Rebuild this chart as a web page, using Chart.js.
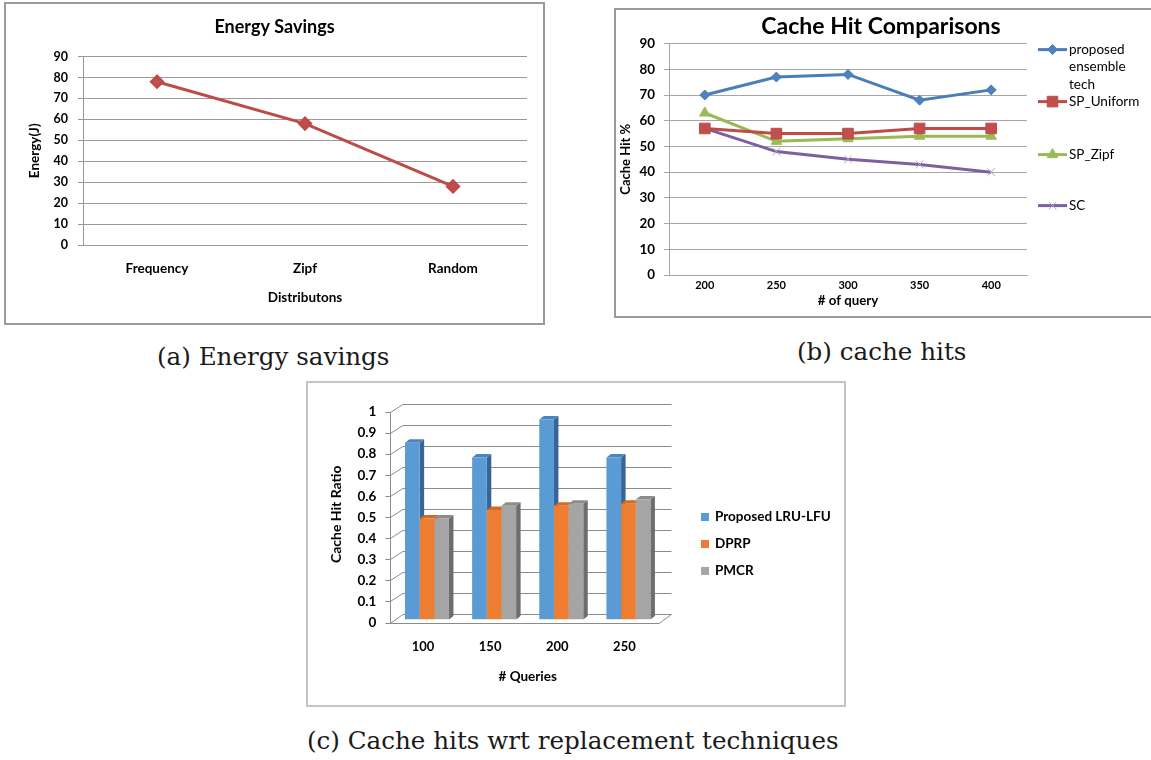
<!DOCTYPE html>
<html>
<head>
<meta charset="utf-8">
<title>Cache and energy results</title>
<script src="https://cdn.jsdelivr.net/npm/chart.js@4/dist/chart.umd.min.js"></script>
<style>
  html, body { margin: 0; padding: 0; background: #fff; overflow: hidden; }
  body { width: 1151px; height: 760px; position: relative; }
  .panel { position: absolute; box-sizing: border-box; border: 2px solid #9a9a9a; background: #fff; }
  .panel canvas { display: block; }
  .cap { position: absolute; font-family: "DejaVu Serif", serif; font-size: 24.6px; line-height: 30px; white-space: nowrap; color: #1a1a1a; }
</style>
</head>
<body>

<div class="panel" style="left:4px;top:2px;width:541px;height:323px"><canvas id="energyChart" width="537" height="319"></canvas></div>
<div class="cap" style="left:157px;top:342px">(a) Energy savings</div>

<div class="panel" style="left:614px;top:8px;width:540px;height:310px"><canvas id="hitChart" width="536" height="306"></canvas></div>
<div class="cap" style="left:797px;top:337px">(b) cache hits</div>

<div class="panel" style="left:306px;top:381px;width:540px;height:326px;border-color:#c4c4c4"><canvas id="ratioChart" width="536" height="322"></canvas></div>
<div class="cap" style="left:307px;top:726px">(c) Cache hits wrt replacement techniques</div>

<script>
// energy per distribution
const distributions = ["Frequency", "Zipf", "Random"];
const energyJ = [78, 58, 28];

// cache hit % per number of queries
const queryCounts = ["200", "250", "300", "350", "400"];
const proposedHits = [70, 77, 78, 68, 72];
const spUniformHits = [57, 55, 55, 57, 57];
const spZipfHits = [63, 52, 53, 54, 54];
const scHits = [57, 48, 45, 43, 40];

// cache hit ratio per replacement technique
const queryGroups = ["100", "150", "200", "250"];
const lruLfuRatio = [0.84, 0.77, 0.95, 0.77];
const dprpRatio = [0.48, 0.52, 0.54, 0.55];
const pmcrRatio = [0.48, 0.54, 0.55, 0.57];

Chart.defaults.font.family = 'Lato, "Open Sans", sans-serif';
Chart.defaults.color = "#000";
Chart.defaults.animation = false;

function wrapText(ctx, text, maxWidth) {
  const words = text.split(" ");
  const lines = [];
  let line = "";
  words.forEach((w) => {
    const test = line ? line + " " + w : w;
    if (line && ctx.measureText(test).width > maxWidth) {
      lines.push(line);
      line = w;
    } else {
      line = test;
    }
  });
  lines.push(line);
  return lines;
}

// legend drawn to the right of the plot, one row per dataset
const sideLegend = {
  id: "sideLegend",
  afterDraw(chart, args, opts) {
    const { ctx, chartArea } = chart;
    ctx.save();
    ctx.font = opts.font;
    ctx.textBaseline = "middle";
    chart.data.datasets.forEach((ds, i) => {
      const y = chartArea.top + opts.rows[i];
      const x = chartArea.right + opts.x;
      if (opts.swatch === "line") {
        ctx.strokeStyle = ds.borderColor;
        ctx.lineWidth = ds.borderWidth;
        ctx.beginPath();
        ctx.moveTo(x, y);
        ctx.lineTo(x + opts.swatchWidth, y);
        ctx.stroke();
        ctx.fillStyle = ds.pointBackgroundColor;
        ctx.strokeStyle = ds.pointBorderColor;
        ctx.lineWidth = ds.pointBorderWidth;
        Chart.helpers.drawPoint(ctx, {
          pointStyle: ds.pointStyle,
          radius: ds.pointRadius,
          rotation: 0,
          borderWidth: ds.pointBorderWidth,
        }, x + opts.swatchWidth / 2, y);
      } else {
        ctx.fillStyle = ds.backgroundColor;
        ctx.fillRect(x, y - opts.swatchWidth / 2, opts.swatchWidth, opts.swatchWidth);
      }
      ctx.fillStyle = "#000";
      wrapText(ctx, ds.label, opts.maxWidth).forEach((ln, k) => {
        ctx.fillText(ln, x + opts.textOffset, y + k * opts.lineGap);
      });
    });
    ctx.restore();
  },
};

// fake 3D: back wall grid, floor, and the top/side faces of each bar
const box3d = {
  id: "box3d",
  beforeDatasetsDraw(chart, args, o) {
    const { ctx, chartArea: a, scales: { y } } = chart;
    ctx.save();
    ctx.strokeStyle = o.gridColor;
    ctx.lineWidth = 1;
    y.ticks.forEach((t) => {
      const py = y.getPixelForValue(t.value);
      const fy = Math.round(py + o.front[1]) + 0.5;
      const by = Math.round(py + o.back[1]) + 0.5;
      const fx = a.left + o.front[0];
      const bx = a.left + o.back[0];
      ctx.beginPath();
      ctx.moveTo(fx - o.tick, fy);
      ctx.lineTo(fx, fy);
      ctx.lineTo(bx, by);
      ctx.lineTo(a.right + o.back[0], by);
      ctx.stroke();
    });
    const y0 = y.getPixelForValue(y.min);
    const y1 = y.getPixelForValue(y.max);
    const fx = Math.round(a.left + o.front[0]) + 0.5;
    ctx.beginPath();
    ctx.moveTo(fx, Math.round(y1 + o.front[1]));
    ctx.lineTo(fx, Math.round(y0 + o.front[1]) + 0.5);
    ctx.lineTo(a.right + o.front[0], Math.round(y0 + o.front[1]) + 0.5);
    ctx.lineTo(a.right + o.back[0], Math.round(y0 + o.back[1]) + 0.5);
    ctx.stroke();

    const metas = chart.data.datasets.map((ds, i) => chart.getDatasetMeta(i));
    const n = chart.data.labels.length;
    for (let j = 0; j < n; j++) {
      metas.forEach((meta, i) => {
        const ds = chart.data.datasets[i];
        const bar = meta.data[j];
        const { x, y: top, base, width } = bar.getProps(["x", "y", "base", "width"], true);
        const l = x - width / 2;
        const r = x + width / 2;
        ctx.fillStyle = ds.sideColor;
        ctx.beginPath();
        ctx.moveTo(r, top);
        ctx.lineTo(r + o.depth[0], top - o.depth[1]);
        ctx.lineTo(r + o.depth[0], base - o.depth[1]);
        ctx.lineTo(r, base);
        ctx.closePath();
        ctx.fill();
        ctx.fillStyle = ds.topColor;
        ctx.beginPath();
        ctx.moveTo(l, top);
        ctx.lineTo(l + o.depth[0], top - o.depth[1]);
        ctx.lineTo(r + o.depth[0], top - o.depth[1]);
        ctx.lineTo(r, top);
        ctx.closePath();
        ctx.fill();
      });
    }
    ctx.restore();
  },
};

// (a) energy savings
new Chart(document.getElementById("energyChart"), {
  type: "line",
  data: {
    labels: distributions,
    datasets: [
      {
        label: "Energy",
        data: energyJ,
        borderColor: "#BE4B48",
        borderWidth: 3,
        pointStyle: "rectRot",
        pointRadius: 5.5,
        pointBackgroundColor: "#C0504D",
        pointBorderColor: "#BE4B48",
        tension: 0,
      },
    ],
  },
  options: {
    responsive: false,
    layout: { padding: { left: 16, right: 16, top: 0, bottom: 0 } },
    plugins: {
      legend: { display: false },
      tooltip: { enabled: false },
      title: {
        display: true,
        text: "Energy Savings",
        font: { size: 18, weight: "bold" },
        color: "#000",
        padding: { top: 12, bottom: 19 },
      },
    },
    scales: {
      x: {
        offset: true,
        grid: { display: false, drawTicks: false },
        border: { color: "#999" },
        ticks: { font: { size: 13.5, weight: "bold" }, padding: 16 },
        title: { display: true, text: "Distributons", font: { size: 13.5, weight: "bold" }, padding: { top: 0, bottom: 17 } },
        afterFit: (s) => { s.height = 78; },
      },
      y: {
        min: 0,
        max: 90,
        ticks: { stepSize: 10, font: { size: 12.5, weight: "bold" }, padding: 10 },
        grid: { color: "#999", tickLength: 5 },
        border: { color: "#999" },
        title: { display: true, text: "Energy(J)", font: { size: 13.5, weight: "bold" }, padding: { top: 5, bottom: 0 } },
        afterFit: (s) => { s.width = 61; },
      },
    },
  },
});

// (b) cache hit comparisons
new Chart(document.getElementById("hitChart"), {
  type: "line",
  data: {
    labels: queryCounts,
    datasets: [
      {
        label: "proposed ensemble tech",
        data: proposedHits,
        borderColor: "#4A7EBB",
        borderWidth: 3,
        pointStyle: "rectRot",
        pointRadius: 5,
        pointBackgroundColor: "#4F81BD",
        pointBorderColor: "#4A7EBB",
        pointBorderWidth: 1,
      },
      {
        label: "SP_Uniform",
        data: spUniformHits,
        borderColor: "#BE4B48",
        borderWidth: 3,
        pointStyle: "rect",
        pointRadius: 7.5,
        pointBackgroundColor: "#C0504D",
        pointBorderColor: "#BE4B48",
        pointBorderWidth: 1,
      },
      {
        label: "SP_Zipf",
        data: spZipfHits,
        borderColor: "#98B954",
        borderWidth: 3,
        pointStyle: "triangle",
        pointRadius: 6,
        pointBackgroundColor: "#9BBB59",
        pointBorderColor: "#98B954",
        pointBorderWidth: 1,
      },
      {
        label: "SC",
        data: scHits,
        borderColor: "#7D60A0",
        borderWidth: 3,
        pointStyle: "crossRot",
        pointRadius: 5.5,
        pointBackgroundColor: "#B3A2C7",
        pointBorderColor: "#B3A2C7",
        pointBorderWidth: 1,
      },
    ],
  },
  options: {
    responsive: false,
    layout: { padding: { left: 0, right: 6, top: 0, bottom: 0 } },
    plugins: {
      legend: { display: false },
      tooltip: { enabled: false },
      title: {
        display: true,
        text: "Cache Hit Comparisons",
        font: { size: 23, weight: "bold" },
        color: "#000",
        padding: { top: 3, bottom: 3 },
      },
      sideLegend: {
        swatch: "line",
        x: 11,
        swatchWidth: 29,
        textOffset: 31,
        rows: [6, 58, 111, 162],
        lineGap: 17.5,
        maxWidth: 75,
        font: '13.5px Lato, "Open Sans", sans-serif',
      },
    },
    scales: {
      x: {
        offset: true,
        grid: { display: false, drawTicks: false },
        border: { color: "#a6a6a6" },
        ticks: { font: { size: 11, weight: "bold" }, padding: 4 },
        title: { display: true, text: "# of query", font: { size: 13.3, weight: "bold" }, padding: { top: 0, bottom: 7 } },
        afterFit: (s) => { s.height = 41; },
      },
      y: {
        min: 0,
        max: 90,
        ticks: { stepSize: 10, font: { size: 13.4, weight: "bold" }, padding: 9 },
        grid: { color: "#a6a6a6", tickLength: 5 },
        border: { color: "#a6a6a6" },
        title: { display: true, text: "Cache Hit %", font: { size: 13, weight: "bold" }, padding: { top: 2, bottom: 0 } },
        afterFit: (s) => { s.width = 53; },
      },
      legendSpace: {
        type: "linear",
        axis: "y",
        position: "right",
        grid: { display: false, drawTicks: false },
        border: { display: false },
        ticks: { display: false },
        afterFit: (s) => { s.width = 119; },
      },
    },
  },
  plugins: [sideLegend],
});

// (c) cache hit ratio by replacement technique
new Chart(document.getElementById("ratioChart"), {
  type: "bar",
  data: {
    labels: queryGroups,
    datasets: [
      { label: "Proposed LRU-LFU", data: lruLfuRatio, backgroundColor: "#5B9BD5", topColor: "#4A85BE", sideColor: "#386595" },
      { label: "DPRP", data: dprpRatio, backgroundColor: "#ED7D31", topColor: "#D46B25", sideColor: "#AD5A20" },
      { label: "PMCR", data: pmcrRatio, backgroundColor: "#A5A5A5", topColor: "#8C8C8C", sideColor: "#6E6E6E" },
    ],
  },
  options: {
    responsive: false,
    layout: { padding: { left: 0, right: 182, top: 26, bottom: 0 } },
    datasets: { bar: { categoryPercentage: 0.655, barPercentage: 1, borderWidth: 0 } },
    plugins: {
      legend: { display: false },
      tooltip: { enabled: false },
      box3d: { gridColor: "#8c8c8c", front: [-3, 3], back: [9.5, -5.5], tick: 5, depth: [4.5, 3.5] },
      sideLegend: {
        swatch: "box",
        x: 39,
        swatchWidth: 8,
        textOffset: 14,
        rows: [108, 135, 162],
        lineGap: 16,
        maxWidth: 200,
        font: 'bold 13.5px Lato, "Open Sans", sans-serif',
      },
    },
    scales: {
      x: {
        grid: { display: false, drawTicks: false },
        border: { display: false },
        ticks: { font: { size: 13, weight: "bold" }, padding: 20, labelOffset: -4 },
        title: { display: true, text: "# Queries", font: { size: 13.5, weight: "bold" }, padding: { top: 0, bottom: 20 } },
        afterFit: (s) => { s.height = 85.5; },
      },
      y: {
        min: 0,
        max: 1,
        ticks: {
          stepSize: 0.1,
          font: { size: 13.5, weight: "bold" },
          padding: 17,
          labelOffset: 3,
          callback: (v) => String(Number(v.toFixed(1))),
        },
        grid: { display: false, drawTicks: false },
        border: { display: false },
        title: { display: true, text: "Cache Hit Ratio", font: { size: 14, weight: "bold" }, padding: { top: 20, bottom: 0 } },
        afterFit: (s) => { s.width = 85.4; },
      },
    },
  },
  plugins: [box3d, sideLegend],
});
</script>
</body>
</html>
